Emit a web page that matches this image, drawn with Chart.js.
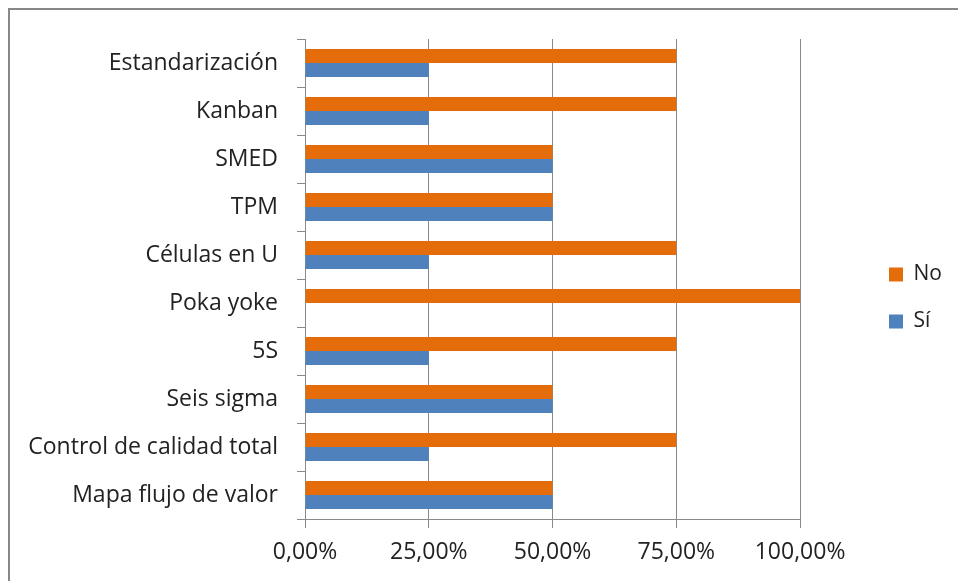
<!DOCTYPE html>
<html><head><meta charset="utf-8">
<script src="https://cdn.jsdelivr.net/npm/chart.js@4.4.1/dist/chart.umd.min.js"></script>
<style>html,body{margin:0;padding:0;background:#fff;overflow:hidden}</style>
</head><body>
<canvas id="c" width="958" height="581" style="width:958px;height:581px;display:block"></canvas>
<script>
const categories = ['Estandarización','Kanban','SMED','TPM','Células en U','Poka yoke','5S','Seis sigma','Control de calidad total','Mapa flujo de valor'];
const seriesNames = ['No','Sí'];
const seriesNo = [75,75,50,50,75,100,75,50,75,50];
const seriesSi = [25,25,50,50,25,0,25,50,25,50];
const xTicks = [0,25,50,75,100];

const FONT = "'Open Sans', 'Liberation Sans', sans-serif";
const GRID = '#8a8a8a';
const TEXT = '#222222';

const framePlugin = {
  id: 'frame',
  afterLayout(chart) {
    const lg = chart.legend;
    const w = lg.width;
    lg.left = 863; lg.right = 863 + w;
    lg.top -= 12; lg.bottom -= 12;
  },
  beforeDraw(chart) {
    const ctx = chart.ctx;
    ctx.save();
    ctx.fillStyle = '#ffffff';
    ctx.fillRect(0, 0, chart.width, chart.height);
    ctx.strokeStyle = '#878787';
    ctx.lineWidth = 2;
    ctx.beginPath();
    ctx.moveTo(9, chart.height);
    ctx.lineTo(9, 9);
    ctx.lineTo(chart.width, 9);
    ctx.stroke();
    ctx.restore();
  }
};

new Chart(document.getElementById('c'), {
  type: 'bar',
  data: {
    labels: categories,
    datasets: [
      { label: seriesNames[0], data: seriesNo, backgroundColor: '#E46C0A', borderWidth: 0 },
      { label: seriesNames[1], data: seriesSi, backgroundColor: '#4F81BD', borderWidth: 0 }
    ]
  },
  options: {
    indexAxis: 'y',
    responsive: false,
    animation: false,
    devicePixelRatio: 1,
    categoryPercentage: 0.58,
    barPercentage: 1.0,
    layout: { padding: { top: 39, left: 0, right: 69, bottom: 0 } },
    font: { family: FONT },
    scales: {
      x: {
        min: 0, max: 100,
        afterBuildTicks(scale) { scale.ticks = xTicks.map(v => ({ value: v })); },
        afterFit(scale) { scale.height = 62; },
        ticks: {
          font: { family: FONT, size: 23 },
          color: TEXT,
          padding: 11,
          maxRotation: 0,
          callback: (v) => v.toFixed(2).replace('.', ',') + '%'
        },
        grid: { color: GRID, lineWidth: 1, tickLength: 9 },
        border: { color: GRID, width: 1 }
      },
      y: {
        afterFit(scale) { scale.width = 305; },
        ticks: { font: { family: FONT, size: 23 }, color: TEXT, padding: 19 },
        grid: { drawOnChartArea: false, color: GRID, tickLength: 8, offset: true },
        border: { color: GRID, width: 1 }
      }
    },
    plugins: {
      legend: {
        position: 'right',
        labels: {
          font: { family: FONT, size: 21 },
          color: TEXT,
          boxWidth: 14,
          boxHeight: 14,
          padding: 26
        }
      },
      tooltip: { enabled: false }
    }
  },
  plugins: [framePlugin]
});
</script>
</body></html>
